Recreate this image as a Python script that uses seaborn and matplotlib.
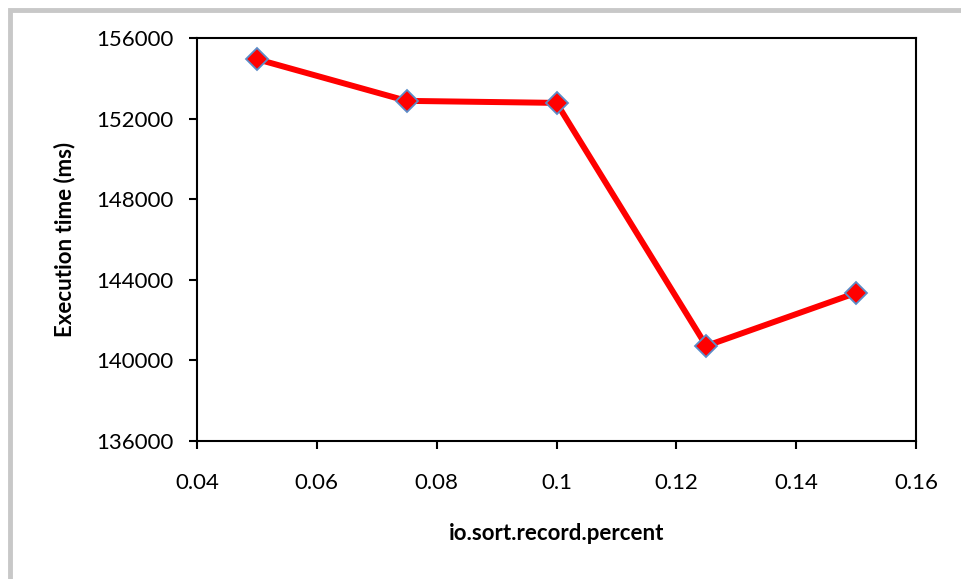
import matplotlib
matplotlib.use("Agg")
import matplotlib.pyplot as plt
import seaborn as sns
import pandas as pd
from matplotlib.patches import Rectangle

# values
record_percent = [0.05, 0.075, 0.1, 0.125, 0.15]
exec_time_ms = [154950, 152880, 152780, 140720, 143350]
x_ticks = [0.04, 0.06, 0.08, 0.1, 0.12, 0.14, 0.16]
x_labels = ["0.04", "0.06", "0.08", "0.1", "0.12", "0.14", "0.16"]
y_ticks = [136000, 140000, 144000, 148000, 152000, 156000]

df = pd.DataFrame({"pct": record_percent, "time": exec_time_ms})

sns.set_style("white")
plt.rcParams["font.family"] = ["Lato", "DejaVu Sans"]
plt.rcParams["text.color"] = "black"
plt.rcParams["axes.labelcolor"] = "black"

fig = plt.figure(figsize=(9.61, 5.79), dpi=100)
ax = fig.add_axes([197 / 961, 1 - 441 / 579, (916 - 197) / 961, (441 - 38) / 579])

sns.lineplot(data=df, x="pct", y="time", ax=ax, color="#ff0000", linewidth=4.3,
             marker="D", markersize=11, markerfacecolor="#ff0000",
             markeredgecolor="#5b8cc8", markeredgewidth=1.3)

ax.set_xlim(0.04, 0.16)
ax.set_ylim(136000, 156000)
ax.set_xticks(x_ticks)
ax.set_xticklabels(x_labels)
ax.set_yticks(y_ticks)
ax.tick_params(axis="both", direction="out", length=6, width=1.5, color="black",
               labelsize=16, labelcolor="black", pad=11, bottom=True, left=True)
ax.tick_params(axis="x", pad=17)
for s in ax.spines.values():
    s.set_color("black")
    s.set_linewidth(1.5)

ax.set_xlabel("io.sort.record.percent", fontsize=16, fontweight="bold",
              color="black", labelpad=22)
ax.set_ylabel("Execution time (ms)", fontsize=16, fontweight="bold",
              color="black", labelpad=15)

# grey chart-area border from the original (cut at right and bottom)
fig.patches.append(Rectangle((10 / 961, -0.1), 1.2, 1 - 10 / 579 + 0.1,
                             transform=fig.transFigure, fill=False,
                             edgecolor="#c8c8c8", linewidth=3.5))

fig.savefig("out.png", dpi=100)
